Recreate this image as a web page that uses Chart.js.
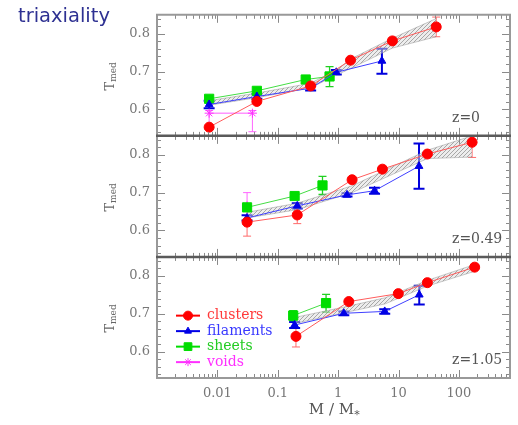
<!DOCTYPE html>
<html lang="en">
<head>
  <meta charset="UTF-8" />
  <title>triaxiality</title>
  <script src="https://cdn.jsdelivr.net/npm/chart.js@4.4.0"></script>
  <style>
    body { margin: 0; background: #fff; }
    #wrap { position: relative; width: 518px; height: 425px; }
    #wrap canvas { position: absolute; left: 0; top: 0; }
    #title {
      position: absolute; left: 18px; top: 4px;
      font-family: 'DejaVu Sans', sans-serif; font-size: 19.5px; color: #2e3192;
    }
  </style>
</head>
<body>
  <div id="wrap">
    <canvas id="chart" width="518" height="425"></canvas>
    <div id="title">triaxiality</div>
  </div>

  <script>
    const panelNames = ['z=0', 'z=0.49', 'z=1.05'];
    const seriesNames = ['clusters', 'filaments', 'sheets', 'voids'];
    const xTickValues = [0.01, 0.1, 1, 10, 100];
    const yTickValues = [0.6, 0.7, 0.8];

    // z = 0   (errors are [minus, plus])
    const clustersM0 = [0.0073, 0.045, 0.35, 1.6, 7.9, 42];
    const clustersT0 = [0.553, 0.621, 0.662, 0.730, 0.781, 0.818];
    const clustersE0 = [[0.004, 0.004], [0.005, 0.005], [0.006, 0.006], [0.005, 0.005], [0.005, 0.005], [0.026, 0.026]];
    const filamentsM0 = [0.0073, 0.045, 0.35, 0.93, 5.3];
    const filamentsT0 = [0.613, 0.634, 0.656, 0.698, 0.728];
    const filamentsE0 = [[0.010, 0.010], [0.006, 0.006], [0.006, 0.006], [0.006, 0.006], [0.034, 0.032]];
    const sheetsM0 = [0.0073, 0.045, 0.29, 0.72];
    const sheetsT0 = [0.628, 0.649, 0.679, 0.687];
    const sheetsE0 = [[0.004, 0.004], [0.004, 0.004], [0.004, 0.004], [0.027, 0.026]];
    const voidsM0 = [0.0073, 0.038];
    const voidsT0 = [0.590, 0.590];
    const voidsE0 = [[0.035, 0.007], [0.049, 0.007]];
    const bandM0 = [0.0073, 0.045, 0.35, 1.0, 1.6, 7.9, 42];
    const bandLo0 = [0.611, 0.631, 0.657, 0.693, 0.708, 0.762, 0.792];
    const bandHi0 = [0.623, 0.643, 0.669, 0.707, 0.733, 0.788, 0.840];

    // z = 0.49
    const clustersM1 = [0.031, 0.21, 1.7, 5.4, 30, 165];
    const clustersT1 = [0.622, 0.641, 0.734, 0.762, 0.802, 0.833];
    const clustersE1 = [[0.037, 0.030], [0.023, 0.020], [0.006, 0.006], [0.005, 0.005], [0.006, 0.006], [0.040, 0.040]];
    const filamentsM1 = [0.031, 0.21, 1.4, 4.0, 21.8];
    const filamentsT1 = [0.633, 0.665, 0.694, 0.705, 0.770];
    const filamentsE1 = [[0.007, 0.007], [0.007, 0.007], [0.004, 0.004], [0.008, 0.008], [0.060, 0.060]];
    const sheetsM1 = [0.031, 0.19, 0.55];
    const sheetsT1 = [0.661, 0.691, 0.719];
    const sheetsE1 = [[0.005, 0.005], [0.005, 0.005], [0.024, 0.024]];
    const voidsM1 = [0.031];
    const voidsT1 = [0.665];
    const voidsE1 = [[0.035, 0.035]];
    const bandM1 = [0.031, 0.21, 1.7, 30, 165];
    const bandLo1 = [0.633, 0.655, 0.700, 0.790, 0.794];
    const bandHi1 = [0.648, 0.672, 0.718, 0.812, 0.850];

    // z = 1.05
    const clustersM2 = [0.2, 1.5, 9.9, 30, 182];
    const clustersT2 = [0.640, 0.732, 0.753, 0.782, 0.823];
    const clustersE2 = [[0.028, 0.022], [0.006, 0.006], [0.006, 0.006], [0.006, 0.006], [0.006, 0.006]];
    const filamentsM2 = [0.19, 1.24, 5.9, 22];
    const filamentsT2 = [0.670, 0.701, 0.706, 0.750];
    const filamentsE2 = [[0.008, 0.008], [0.005, 0.005], [0.006, 0.006], [0.026, 0.024]];
    const sheetsM2 = [0.18, 0.63];
    const sheetsT2 = [0.695, 0.728];
    const sheetsE2 = [[0.013, 0.013], [0.024, 0.023]];
    const voidsM2 = [];
    const voidsT2 = [];
    const voidsE2 = [];
    const bandM2 = [0.19, 1.3, 6, 30, 182];
    const bandLo2 = [0.674, 0.703, 0.726, 0.773, 0.812];
    const bandHi2 = [0.690, 0.718, 0.742, 0.788, 0.830];

    const panels = [
      { id: 'y0', series: [[clustersM0, clustersT0, clustersE0], [filamentsM0, filamentsT0, filamentsE0], [sheetsM0, sheetsT0, sheetsE0], [voidsM0, voidsT0, voidsE0]], band: [bandM0, bandLo0, bandHi0] },
      { id: 'y1', series: [[clustersM1, clustersT1, clustersE1], [filamentsM1, filamentsT1, filamentsE1], [sheetsM1, sheetsT1, sheetsE1], [voidsM1, voidsT1, voidsE1]], band: [bandM1, bandLo1, bandHi1] },
      { id: 'y2', series: [[clustersM2, clustersT2, clustersE2], [filamentsM2, filamentsT2, filamentsE2], [sheetsM2, sheetsT2, sheetsE2], [voidsM2, voidsT2, voidsE2]], band: [bandM2, bandLo2, bandHi2] }
    ];

    const styles = [
      { line: '#ff5c5c', point: '#ff0000', bar: '#ff6a6a', barWidth: 1, cap: 8, pointStyle: 'circle', radius: 5, legendRadius: 4.5, text: '#ff3a3a' },
      { line: '#4040ff', point: '#0000e6', bar: '#0000dd', barWidth: 2, cap: 11, pointStyle: 'triangle', radius: 4.5, legendRadius: 4, text: '#3a3aff' },
      { line: '#44dd44', point: '#00dd00', bar: '#22d022', barWidth: 1.3, cap: 8, pointStyle: 'rect', radius: 6.5, legendRadius: 5.5, text: '#22cc22' },
      { line: '#ff5cff', point: '#ff30ff', bar: '#ff66ff', barWidth: 1, cap: 8, pointStyle: 'star', radius: 4.5, legendRadius: 4, text: '#ff30ff' }
    ];

    const serif = 'DejaVu Serif';
    const grayText = '#777';

    function makeHatch() {
      const c = document.createElement('canvas');
      c.width = 4; c.height = 4;
      const g = c.getContext('2d');
      g.fillStyle = 'rgba(220,220,220,0.5)';
      g.fillRect(0, 0, 4, 4);
      g.strokeStyle = 'rgba(120,120,120,0.6)';
      g.lineWidth = 1;
      g.beginPath();
      g.moveTo(0, 4); g.lineTo(4, 0);
      g.moveTo(-1, 1); g.lineTo(1, -1);
      g.moveTo(3, 5); g.lineTo(5, 3);
      g.stroke();
      return g.createPattern(c, 'repeat');
    }
    const hatch = makeHatch();

    const datasets = [];
    panels.forEach(p => {
      const [bm, blo, bhi] = p.band;
      datasets.push({
        label: 'band', data: bm.map((m, i) => ({ x: m, y: blo[i] })), yAxisID: p.id,
        borderColor: 'rgba(150,150,150,0.5)', borderWidth: 1, pointRadius: 0, fill: false, order: 10
      });
      datasets.push({
        label: 'band', data: bm.map((m, i) => ({ x: m, y: bhi[i] })), yAxisID: p.id,
        borderColor: 'rgba(150,150,150,0.5)', borderWidth: 1, pointRadius: 0, fill: '-1',
        backgroundColor: hatch, order: 10
      });
      p.series.forEach((s, si) => {
        if (!s[0].length) return;
        const st = styles[si];
        datasets.push({
          label: seriesNames[si],
          data: s[0].map((m, i) => ({ x: m, y: s[1][i] })),
          errors: s[2],
          seriesIndex: si,
          yAxisID: p.id,
          borderColor: st.line,
          borderWidth: 1,
          pointStyle: st.pointStyle,
          pointRadius: st.radius,
          pointBackgroundColor: st.point,
          pointBorderColor: st.point,
          pointBorderWidth: 1,
          fill: false,
          tension: 0,
          order: si
        });
      });
    });

    function yScale(id) {
      return {
        type: 'linear', position: 'left', stack: 'panels', stackWeight: 1,
        min: 0.53, max: 0.85,
        grid: { display: false, drawTicks: false },
        border: { display: false },
        afterBuildTicks: s => { s.ticks = yTickValues.map(v => ({ value: v })); },
        afterFit: s => { s.width = 157; },
        ticks: {
          color: grayText, padding: 7,
          font: { family: serif, size: 13 },
          callback: v => v.toFixed(1)
        }
      };
    }

    const decor = {
      id: 'decor',
      beforeDatasetsDraw(chart) {
        const ctx = chart.ctx;
        chart.data.datasets.forEach((ds, di) => {
          if (!ds.errors) return;
          const st = styles[ds.seriesIndex];
          const ys = chart.scales[ds.yAxisID];
          const meta = chart.getDatasetMeta(di);
          ctx.save();
          ctx.strokeStyle = st.bar;
          ctx.lineWidth = st.barWidth;
          meta.data.forEach((pt, j) => {
            const v = ds.data[j].y, e = ds.errors[j];
            const hiPx = ys.getPixelForValue(v + e[1]);
            const loPx = ys.getPixelForValue(v - e[0]);
            const top = Math.max(ys.top, hiPx), bot = Math.min(ys.bottom, loPx);
            const h = st.cap / 2;
            ctx.beginPath();
            ctx.moveTo(pt.x, top); ctx.lineTo(pt.x, bot);
            if (hiPx >= ys.top) { ctx.moveTo(pt.x - h, hiPx); ctx.lineTo(pt.x + h, hiPx); }
            if (loPx <= ys.bottom) { ctx.moveTo(pt.x - h, loPx); ctx.lineTo(pt.x + h, loPx); }
            ctx.stroke();
          });
          ctx.restore();
        });
      },
      afterDraw(chart) {
        const ctx = chart.ctx;
        const xs = chart.scales.x;
        const L = xs.left, R = xs.right;
        ctx.save();

        panels.forEach((p, pi) => {
          const ys = chart.scales[p.id];
          const T = ys.top, B = ys.bottom;

          // inner ticks on all four sides
          ctx.strokeStyle = '#8a8a8a';
          ctx.lineWidth = 1;
          ctx.beginPath();
          for (let d = -3; d <= 2; d++) {
            for (let k = 1; k <= 9; k++) {
              const v = k * Math.pow(10, d);
              if (v < xs.min || v > xs.max) continue;
              const px = Math.round(xs.getPixelForValue(v)) + 0.5;
              const len = k === 1 ? 8 : 4;
              ctx.moveTo(px, T); ctx.lineTo(px, T + len);
              ctx.moveTo(px, B); ctx.lineTo(px, B - len);
            }
          }
          for (let i = 27; i <= 42; i++) {
            const v = i * 0.02;
            if (v < ys.min || v > ys.max) continue;
            const py = Math.round(ys.getPixelForValue(v)) + 0.5;
            const len = i % 5 === 0 ? 8 : 4;
            ctx.moveTo(L, py); ctx.lineTo(L + len, py);
            ctx.moveTo(R, py); ctx.lineTo(R - len, py);
          }
          ctx.stroke();

          // side borders
          ctx.strokeStyle = '#999';
          ctx.lineWidth = 2;
          ctx.beginPath();
          ctx.moveTo(L, T); ctx.lineTo(L, B);
          ctx.moveTo(R, T); ctx.lineTo(R, B);
          ctx.stroke();

          // horizontal borders
          ctx.beginPath();
          ctx.strokeStyle = pi === 0 ? '#999' : '#5a5a5a';
          ctx.lineWidth = pi === 0 ? 2 : 2.5;
          ctx.moveTo(L - 1, T); ctx.lineTo(R + 1, T);
          ctx.stroke();
          if (pi === panels.length - 1) {
            ctx.beginPath();
            ctx.strokeStyle = '#999';
            ctx.lineWidth = 2;
            ctx.moveTo(L - 1, B); ctx.lineTo(R + 1, B);
            ctx.stroke();
          }

          // redshift label
          ctx.fillStyle = '#555';
          ctx.font = '14px ' + serif;
          ctx.textAlign = 'left';
          ctx.textBaseline = 'middle';
          ctx.fillText(panelNames[pi], L + 295, B - 18);

          // y title T_med
          ctx.save();
          ctx.translate(111, (T + B) / 2 + 1);
          ctx.rotate(-Math.PI / 2);
          ctx.font = '13px ' + serif;
          const wT = ctx.measureText('T').width;
          ctx.font = '9px ' + serif;
          const wM = ctx.measureText('med').width;
          const start = -(wT + wM) / 2;
          ctx.fillStyle = '#666';
          ctx.font = '13px ' + serif;
          ctx.fillText('T', start, 0);
          ctx.font = '9px ' + serif;
          ctx.fillText('med', start + wT, 3);
          ctx.restore();
        });

        // legend in bottom panel
        const lp = chart.scales[panels[2].id];
        seriesNames.forEach((name, si) => {
          const st = styles[si];
          const y = lp.top + 58.7 + si * 15.5;
          ctx.strokeStyle = st.point;
          ctx.lineWidth = 2;
          ctx.beginPath();
          ctx.moveTo(L + 19, y); ctx.lineTo(L + 43, y);
          ctx.stroke();
          ctx.fillStyle = st.point;
          ctx.lineWidth = 1;
          Chart.helpers.drawPoint(ctx, { pointStyle: st.pointStyle, radius: st.legendRadius, rotation: 0, borderWidth: 1 }, L + 31, y);
          ctx.fillStyle = st.text;
          ctx.font = '14px ' + serif;
          ctx.textAlign = 'left';
          ctx.textBaseline = 'middle';
          ctx.fillText(name, L + 50, y);
        });

        // x title M / M*
        ctx.fillStyle = '#555';
        ctx.textBaseline = 'middle';
        ctx.font = '15px ' + serif;
        const main = 'M / M';
        const wMain = ctx.measureText(main).width;
        const cx = (L + R) / 2 - 2;
        ctx.textAlign = 'left';
        ctx.fillText(main, cx - wMain / 2, 410);
        ctx.font = '11px ' + serif;
        ctx.fillText('*', cx + wMain / 2, 415);
        ctx.restore();
      }
    };

    new Chart(document.getElementById('chart').getContext('2d'), {
      type: 'line',
      data: { datasets },
      options: {
        responsive: false,
        animation: false,
        layout: { padding: { top: 7, right: 8, bottom: 0, left: 0 } },
        plugins: { legend: { display: false }, tooltip: { enabled: false } },
        scales: {
          x: {
            type: 'logarithmic', position: 'bottom', min: 0.001, max: 700,
            grid: { display: false, drawTicks: false },
            border: { display: false },
            afterBuildTicks: s => { s.ticks = xTickValues.map(v => ({ value: v })); },
            afterFit: s => { s.height = 47; },
            ticks: {
              color: grayText, padding: 8, autoSkip: false, maxRotation: 0,
              font: { family: serif, size: 13 },
              callback: v => String(v)
            }
          },
          y2: yScale('y2'),
          y1: yScale('y1'),
          y0: yScale('y0')
        }
      },
      plugins: [decor]
    });
  </script>
</body>
</html>
